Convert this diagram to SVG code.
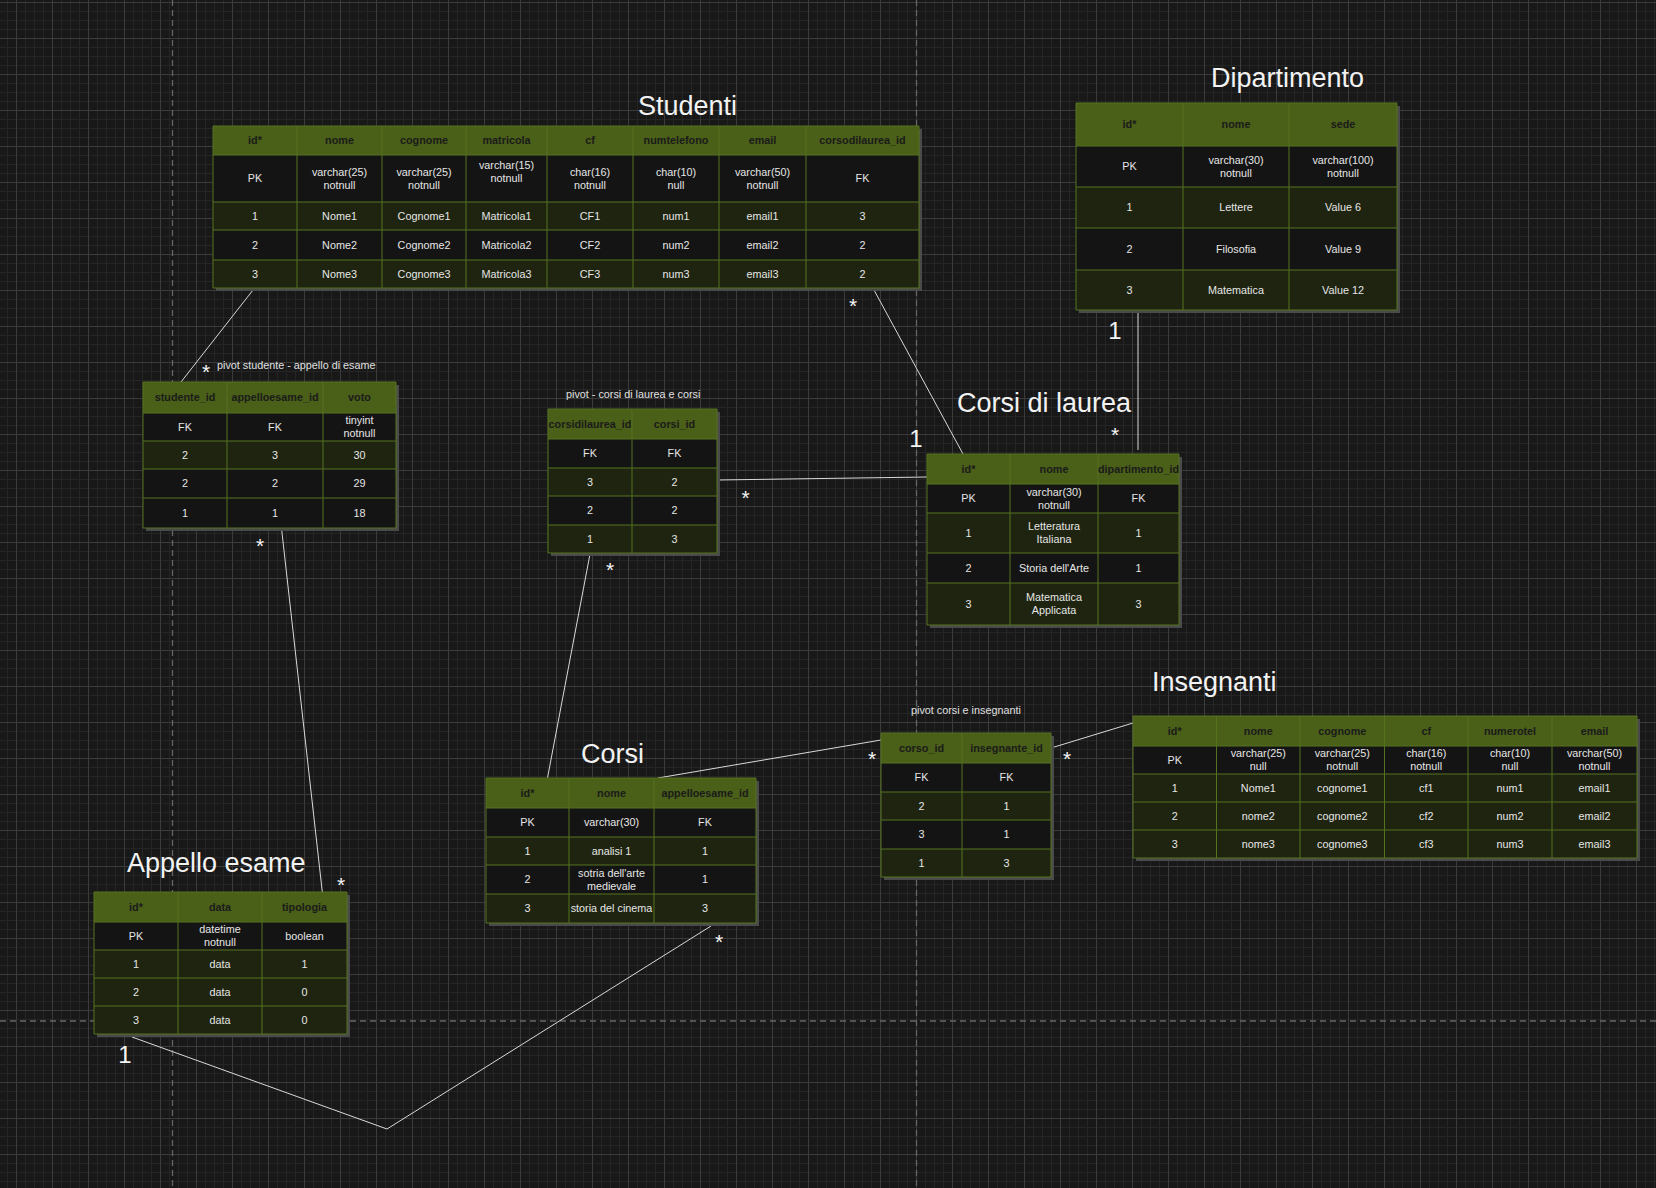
<svg xmlns="http://www.w3.org/2000/svg" width="1656" height="1188" viewBox="0 0 1656 1188">
<defs>
<pattern id="grid" width="36" height="36" patternUnits="userSpaceOnUse" x="16" y="2">
<rect width="36" height="36" fill="#181818"/>
<path d="M9.5 0V36M18.5 0V36M27.5 0V36M0 9.5H36M0 18.5H36M0 27.5H36" stroke="#252525" stroke-width="1"/>
<path d="M0.5 0V36M0 0.5H36" stroke="#3b3b3b" stroke-width="1"/>
</pattern>
<style>
.sh{fill:#4a4a4a}
.hd{fill:#4a5f18}
.ol{fill:#1e2410}
.bk{fill:#141414}
.gl{stroke:#55731f;stroke-width:1;fill:none}
text{font-family:"Liberation Sans",Arial,Helvetica,sans-serif}
.c{font-size:10.8px;fill:#e6e6e6;text-anchor:middle}
.h{font-size:10.8px;font-weight:bold;fill:#1b1b1b;text-anchor:middle}
.ttl{font-size:27px;fill:#f2f2f2}
.lbl{font-size:10.8px;fill:#e0e0e0}
.one{font-size:24px;fill:#f5f5f5;text-anchor:middle}
.st{font-size:21px;fill:#f5f5f5;text-anchor:middle}
.cn{stroke:#d9d9d9;stroke-width:1;fill:none}
.pg{stroke:#666;stroke-width:1.3;stroke-dasharray:6 4;fill:none}
</style>
</defs>
<rect width="1656" height="1188" fill="url(#grid)"/>
<g id="page-breaks">
<path class="pg" d="M172.5 0V1188M916.5 0V1188M0 1021H1656"/>
</g>
<g id="connectors">
<path class="cn" d="M253 290L181 382"/>
<path class="cn" d="M281.7 530L322.3 892"/>
<path class="cn" d="M874 290L963 454"/>
<path class="cn" d="M717 480L927 477"/>
<path class="cn" d="M590 554L547.5 778"/>
<path class="cn" d="M658 778L881 740"/>
<path class="cn" d="M1051 748L1133 723"/>
<path class="cn" d="M1138 312L1138 450"/>
<path class="cn" d="M132 1037L387 1129L711 926"/>
</g>
<g id="studenti">
<rect class="sh" x="216" y="129" width="706" height="162"/>
<rect class="hd" x="213" y="126" width="706" height="29"/>
<rect class="bk" x="213" y="155" width="706" height="47"/>
<rect class="ol" x="213" y="202" width="706" height="28"/>
<rect class="bk" x="213" y="230" width="706" height="30"/>
<rect class="ol" x="213" y="260" width="706" height="28"/>
<path class="gl" d="M213 126H919V288H213ZM213 155H919M213 202H919M213 230H919M213 260H919M297 126V288M382 126V288M466 126V288M547 126V288M633 126V288M719 126V288M806 126V288"/>
<text class="ttl" x="638" y="115">Studenti</text>
<text class="h" x="255" y="144.3">id*</text>
<text class="h" x="339.5" y="144.3">nome</text>
<text class="h" x="424" y="144.3">cognome</text>
<text class="h" x="506.5" y="144.3">matricola</text>
<text class="h" x="590" y="144.3">cf</text>
<text class="h" x="676" y="144.3">numtelefono</text>
<text class="h" x="762.5" y="144.3">email</text>
<text class="h" x="862.5" y="144.3">corsodilaurea_id</text>
<text class="c" x="255" y="182.3">PK</text>
<text class="c"><tspan x="339.5" y="175.8">varchar(25)</tspan><tspan x="339.5" y="188.8">notnull</tspan></text>
<text class="c"><tspan x="424" y="175.8">varchar(25)</tspan><tspan x="424" y="188.8">notnull</tspan></text>
<text class="c"><tspan x="506.5" y="169.3">varchar(15)</tspan><tspan x="506.5" y="182.3">notnull</tspan></text>
<text class="c"><tspan x="590" y="175.8">char(16)</tspan><tspan x="590" y="188.8">notnull</tspan></text>
<text class="c"><tspan x="676" y="175.8">char(10)</tspan><tspan x="676" y="188.8">null</tspan></text>
<text class="c"><tspan x="762.5" y="175.8">varchar(50)</tspan><tspan x="762.5" y="188.8">notnull</tspan></text>
<text class="c" x="862.5" y="182.3">FK</text>
<text class="c" x="255" y="219.8">1</text>
<text class="c" x="339.5" y="219.8">Nome1</text>
<text class="c" x="424" y="219.8">Cognome1</text>
<text class="c" x="506.5" y="219.8">Matricola1</text>
<text class="c" x="590" y="219.8">CF1</text>
<text class="c" x="676" y="219.8">num1</text>
<text class="c" x="762.5" y="219.8">email1</text>
<text class="c" x="862.5" y="219.8">3</text>
<text class="c" x="255" y="248.8">2</text>
<text class="c" x="339.5" y="248.8">Nome2</text>
<text class="c" x="424" y="248.8">Cognome2</text>
<text class="c" x="506.5" y="248.8">Matricola2</text>
<text class="c" x="590" y="248.8">CF2</text>
<text class="c" x="676" y="248.8">num2</text>
<text class="c" x="762.5" y="248.8">email2</text>
<text class="c" x="862.5" y="248.8">2</text>
<text class="c" x="255" y="277.8">3</text>
<text class="c" x="339.5" y="277.8">Nome3</text>
<text class="c" x="424" y="277.8">Cognome3</text>
<text class="c" x="506.5" y="277.8">Matricola3</text>
<text class="c" x="590" y="277.8">CF3</text>
<text class="c" x="676" y="277.8">num3</text>
<text class="c" x="762.5" y="277.8">email3</text>
<text class="c" x="862.5" y="277.8">2</text>
</g>
<g id="dipartimento">
<rect class="sh" x="1079" y="106" width="321" height="207"/>
<rect class="hd" x="1076" y="103" width="321" height="43"/>
<rect class="bk" x="1076" y="146" width="321" height="41"/>
<rect class="ol" x="1076" y="187" width="321" height="41"/>
<rect class="bk" x="1076" y="228" width="321" height="42"/>
<rect class="ol" x="1076" y="270" width="321" height="40"/>
<path class="gl" d="M1076 103H1397V310H1076ZM1076 146H1397M1076 187H1397M1076 228H1397M1076 270H1397M1183 103V310M1289 103V310"/>
<text class="ttl" x="1211" y="87">Dipartimento</text>
<text class="h" x="1129.5" y="128.3">id*</text>
<text class="h" x="1236" y="128.3">nome</text>
<text class="h" x="1343" y="128.3">sede</text>
<text class="c" x="1129.5" y="170.3">PK</text>
<text class="c"><tspan x="1236" y="163.8">varchar(30)</tspan><tspan x="1236" y="176.8">notnull</tspan></text>
<text class="c"><tspan x="1343" y="163.8">varchar(100)</tspan><tspan x="1343" y="176.8">notnull</tspan></text>
<text class="c" x="1129.5" y="211.3">1</text>
<text class="c" x="1236" y="211.3">Lettere</text>
<text class="c" x="1343" y="211.3">Value 6</text>
<text class="c" x="1129.5" y="252.8">2</text>
<text class="c" x="1236" y="252.8">Filosofia</text>
<text class="c" x="1343" y="252.8">Value 9</text>
<text class="c" x="1129.5" y="293.8">3</text>
<text class="c" x="1236" y="293.8">Matematica</text>
<text class="c" x="1343" y="293.8">Value 12</text>
</g>
<g id="pivot-studente-appello">
<rect class="sh" x="146" y="385" width="253" height="146"/>
<rect class="hd" x="143" y="382" width="253" height="31"/>
<rect class="bk" x="143" y="413" width="253" height="28"/>
<rect class="ol" x="143" y="441" width="253" height="28"/>
<rect class="bk" x="143" y="469" width="253" height="29"/>
<rect class="bk" x="143" y="498" width="253" height="30"/>
<path class="gl" d="M143 382H396V528H143ZM143 413H396M143 441H396M143 469H396M143 498H396M227 382V528M323 382V528"/>
<text class="lbl" x="217" y="369">pivot studente - appello di esame</text>
<text class="h" x="185" y="401.3">studente_id</text>
<text class="h" x="275" y="401.3">appelloesame_id</text>
<text class="h" x="359.5" y="401.3">voto</text>
<text class="c" x="185" y="430.8">FK</text>
<text class="c" x="275" y="430.8">FK</text>
<text class="c"><tspan x="359.5" y="424.3">tinyint</tspan><tspan x="359.5" y="437.3">notnull</tspan></text>
<text class="c" x="185" y="458.8">2</text>
<text class="c" x="275" y="458.8">3</text>
<text class="c" x="359.5" y="458.8">30</text>
<text class="c" x="185" y="487.3">2</text>
<text class="c" x="275" y="487.3">2</text>
<text class="c" x="359.5" y="487.3">29</text>
<text class="c" x="185" y="516.8">1</text>
<text class="c" x="275" y="516.8">1</text>
<text class="c" x="359.5" y="516.8">18</text>
</g>
<g id="pivot-corsidilaurea-corsi">
<rect class="sh" x="551" y="412" width="169" height="144"/>
<rect class="hd" x="548" y="409" width="169" height="30"/>
<rect class="bk" x="548" y="439" width="169" height="29"/>
<rect class="ol" x="548" y="468" width="169" height="28"/>
<rect class="bk" x="548" y="496" width="169" height="29"/>
<rect class="ol" x="548" y="525" width="169" height="28"/>
<path class="gl" d="M548 409H717V553H548ZM548 439H717M548 468H717M548 496H717M548 525H717M632 409V553"/>
<text class="lbl" x="566" y="398">pivot - corsi di laurea e corsi</text>
<text class="h" x="590" y="427.8">corsidilaurea_id</text>
<text class="h" x="674.5" y="427.8">corsi_id</text>
<text class="c" x="590" y="457.3">FK</text>
<text class="c" x="674.5" y="457.3">FK</text>
<text class="c" x="590" y="485.8">3</text>
<text class="c" x="674.5" y="485.8">2</text>
<text class="c" x="590" y="514.3">2</text>
<text class="c" x="674.5" y="514.3">2</text>
<text class="c" x="590" y="542.8">1</text>
<text class="c" x="674.5" y="542.8">3</text>
</g>
<g id="corsi-di-laurea">
<rect class="sh" x="930" y="457" width="252" height="171"/>
<rect class="hd" x="927" y="454" width="252" height="30"/>
<rect class="bk" x="927" y="484" width="252" height="29"/>
<rect class="ol" x="927" y="513" width="252" height="40"/>
<rect class="bk" x="927" y="553" width="252" height="30"/>
<rect class="ol" x="927" y="583" width="252" height="42"/>
<path class="gl" d="M927 454H1179V625H927ZM927 484H1179M927 513H1179M927 553H1179M927 583H1179M1010 454V625M1098 454V625"/>
<text class="ttl" x="957" y="412">Corsi di laurea</text>
<text class="h" x="968.5" y="472.8">id*</text>
<text class="h" x="1054" y="472.8">nome</text>
<text class="h" x="1138.5" y="472.8">dipartimento_id</text>
<text class="c" x="968.5" y="502.3">PK</text>
<text class="c"><tspan x="1054" y="495.8">varchar(30)</tspan><tspan x="1054" y="508.8">notnull</tspan></text>
<text class="c" x="1138.5" y="502.3">FK</text>
<text class="c" x="968.5" y="536.8">1</text>
<text class="c"><tspan x="1054" y="530.3">Letteratura</tspan><tspan x="1054" y="543.3">Italiana</tspan></text>
<text class="c" x="1138.5" y="536.8">1</text>
<text class="c" x="968.5" y="571.8">2</text>
<text class="c" x="1054" y="571.8">Storia dell'Arte</text>
<text class="c" x="1138.5" y="571.8">1</text>
<text class="c" x="968.5" y="607.8">3</text>
<text class="c"><tspan x="1054" y="601.3">Matematica</tspan><tspan x="1054" y="614.3">Applicata</tspan></text>
<text class="c" x="1138.5" y="607.8">3</text>
</g>
<g id="insegnanti">
<rect class="sh" x="1136" y="719" width="504" height="142"/>
<rect class="hd" x="1133" y="716" width="504" height="30"/>
<rect class="bk" x="1133" y="746" width="504" height="28"/>
<rect class="ol" x="1133" y="774" width="504" height="28"/>
<rect class="ol" x="1133" y="802" width="504" height="28"/>
<rect class="ol" x="1133" y="830" width="504" height="28"/>
<path class="gl" d="M1133 716H1637V858H1133ZM1133 746H1637M1133 774H1637M1133 802H1637M1133 830H1637M1216.5 716V858M1300 716V858M1384.5 716V858M1468 716V858M1552 716V858"/>
<text class="ttl" x="1152" y="691">Insegnanti</text>
<text class="h" x="1174.75" y="734.8">id*</text>
<text class="h" x="1258.25" y="734.8">nome</text>
<text class="h" x="1342.25" y="734.8">cognome</text>
<text class="h" x="1426.25" y="734.8">cf</text>
<text class="h" x="1510" y="734.8">numerotel</text>
<text class="h" x="1594.5" y="734.8">email</text>
<text class="c" x="1174.75" y="763.8">PK</text>
<text class="c"><tspan x="1258.25" y="757.3">varchar(25)</tspan><tspan x="1258.25" y="770.3">null</tspan></text>
<text class="c"><tspan x="1342.25" y="757.3">varchar(25)</tspan><tspan x="1342.25" y="770.3">notnull</tspan></text>
<text class="c"><tspan x="1426.25" y="757.3">char(16)</tspan><tspan x="1426.25" y="770.3">notnull</tspan></text>
<text class="c"><tspan x="1510" y="757.3">char(10)</tspan><tspan x="1510" y="770.3">null</tspan></text>
<text class="c"><tspan x="1594.5" y="757.3">varchar(50)</tspan><tspan x="1594.5" y="770.3">notnull</tspan></text>
<text class="c" x="1174.75" y="791.8">1</text>
<text class="c" x="1258.25" y="791.8">Nome1</text>
<text class="c" x="1342.25" y="791.8">cognome1</text>
<text class="c" x="1426.25" y="791.8">cf1</text>
<text class="c" x="1510" y="791.8">num1</text>
<text class="c" x="1594.5" y="791.8">email1</text>
<text class="c" x="1174.75" y="819.8">2</text>
<text class="c" x="1258.25" y="819.8">nome2</text>
<text class="c" x="1342.25" y="819.8">cognome2</text>
<text class="c" x="1426.25" y="819.8">cf2</text>
<text class="c" x="1510" y="819.8">num2</text>
<text class="c" x="1594.5" y="819.8">email2</text>
<text class="c" x="1174.75" y="847.8">3</text>
<text class="c" x="1258.25" y="847.8">nome3</text>
<text class="c" x="1342.25" y="847.8">cognome3</text>
<text class="c" x="1426.25" y="847.8">cf3</text>
<text class="c" x="1510" y="847.8">num3</text>
<text class="c" x="1594.5" y="847.8">email3</text>
</g>
<g id="pivot-corsi-insegnanti">
<rect class="sh" x="884" y="736" width="170" height="144"/>
<rect class="hd" x="881" y="733" width="170" height="30"/>
<rect class="bk" x="881" y="763" width="170" height="29"/>
<rect class="ol" x="881" y="792" width="170" height="28"/>
<rect class="bk" x="881" y="820" width="170" height="29"/>
<rect class="ol" x="881" y="849" width="170" height="28"/>
<path class="gl" d="M881 733H1051V877H881ZM881 763H1051M881 792H1051M881 820H1051M881 849H1051M962 733V877"/>
<text class="lbl" x="911" y="714">pivot corsi e insegnanti</text>
<text class="h" x="921.5" y="751.8">corso_id</text>
<text class="h" x="1006.5" y="751.8">insegnante_id</text>
<text class="c" x="921.5" y="781.3">FK</text>
<text class="c" x="1006.5" y="781.3">FK</text>
<text class="c" x="921.5" y="809.8">2</text>
<text class="c" x="1006.5" y="809.8">1</text>
<text class="c" x="921.5" y="838.3">3</text>
<text class="c" x="1006.5" y="838.3">1</text>
<text class="c" x="921.5" y="866.8">1</text>
<text class="c" x="1006.5" y="866.8">3</text>
</g>
<g id="corsi">
<rect class="sh" x="489" y="781" width="270" height="145"/>
<rect class="hd" x="486" y="778" width="270" height="30"/>
<rect class="bk" x="486" y="808" width="270" height="29"/>
<rect class="ol" x="486" y="837" width="270" height="28"/>
<rect class="bk" x="486" y="865" width="270" height="29"/>
<rect class="ol" x="486" y="894" width="270" height="29"/>
<path class="gl" d="M486 778H756V923H486ZM486 808H756M486 837H756M486 865H756M486 894H756M569 778V923M654 778V923"/>
<text class="ttl" x="581" y="763">Corsi</text>
<text class="h" x="527.5" y="796.8">id*</text>
<text class="h" x="611.5" y="796.8">nome</text>
<text class="h" x="705" y="796.8">appelloesame_id</text>
<text class="c" x="527.5" y="826.3">PK</text>
<text class="c" x="611.5" y="826.3">varchar(30)</text>
<text class="c" x="705" y="826.3">FK</text>
<text class="c" x="527.5" y="854.8">1</text>
<text class="c" x="611.5" y="854.8">analisi 1</text>
<text class="c" x="705" y="854.8">1</text>
<text class="c" x="527.5" y="883.3">2</text>
<text class="c"><tspan x="611.5" y="876.8">sotria dell'arte</tspan><tspan x="611.5" y="889.8">medievale</tspan></text>
<text class="c" x="705" y="883.3">1</text>
<text class="c" x="527.5" y="912.3">3</text>
<text class="c" x="611.5" y="912.3">storia del cinema</text>
<text class="c" x="705" y="912.3">3</text>
</g>
<g id="appello-esame">
<rect class="sh" x="97" y="895" width="253" height="142"/>
<rect class="hd" x="94" y="892" width="253" height="30"/>
<rect class="bk" x="94" y="922" width="253" height="28"/>
<rect class="ol" x="94" y="950" width="253" height="28"/>
<rect class="ol" x="94" y="978" width="253" height="28"/>
<rect class="ol" x="94" y="1006" width="253" height="28"/>
<path class="gl" d="M94 892H347V1034H94ZM94 922H347M94 950H347M94 978H347M94 1006H347M178 892V1034M262 892V1034"/>
<text class="ttl" x="127" y="872">Appello esame</text>
<text class="h" x="136" y="910.8">id*</text>
<text class="h" x="220" y="910.8">data</text>
<text class="h" x="304.5" y="910.8">tipologia</text>
<text class="c" x="136" y="939.8">PK</text>
<text class="c"><tspan x="220" y="933.3">datetime</tspan><tspan x="220" y="946.3">notnull</tspan></text>
<text class="c" x="304.5" y="939.8">boolean</text>
<text class="c" x="136" y="967.8">1</text>
<text class="c" x="220" y="967.8">data</text>
<text class="c" x="304.5" y="967.8">1</text>
<text class="c" x="136" y="995.8">2</text>
<text class="c" x="220" y="995.8">data</text>
<text class="c" x="304.5" y="995.8">0</text>
<text class="c" x="136" y="1023.8">3</text>
<text class="c" x="220" y="1023.8">data</text>
<text class="c" x="304.5" y="1023.8">0</text>
</g>
<g id="cardinalities">
<text class="st" x="206" y="378.5">*</text>
<text class="st" x="260" y="553">*</text>
<text class="st" x="341" y="892">*</text>
<text class="st" x="853" y="313">*</text>
<text class="st" x="1115" y="442">*</text>
<text class="st" x="745.5" y="505">*</text>
<text class="st" x="610" y="577">*</text>
<text class="st" x="872" y="766">*</text>
<text class="st" x="1067" y="766">*</text>
<text class="st" x="719" y="949">*</text>
<text class="one" x="1115" y="339">1</text>
<text class="one" x="916" y="447">1</text>
<text class="one" x="125" y="1063">1</text>
</g>
</svg>
